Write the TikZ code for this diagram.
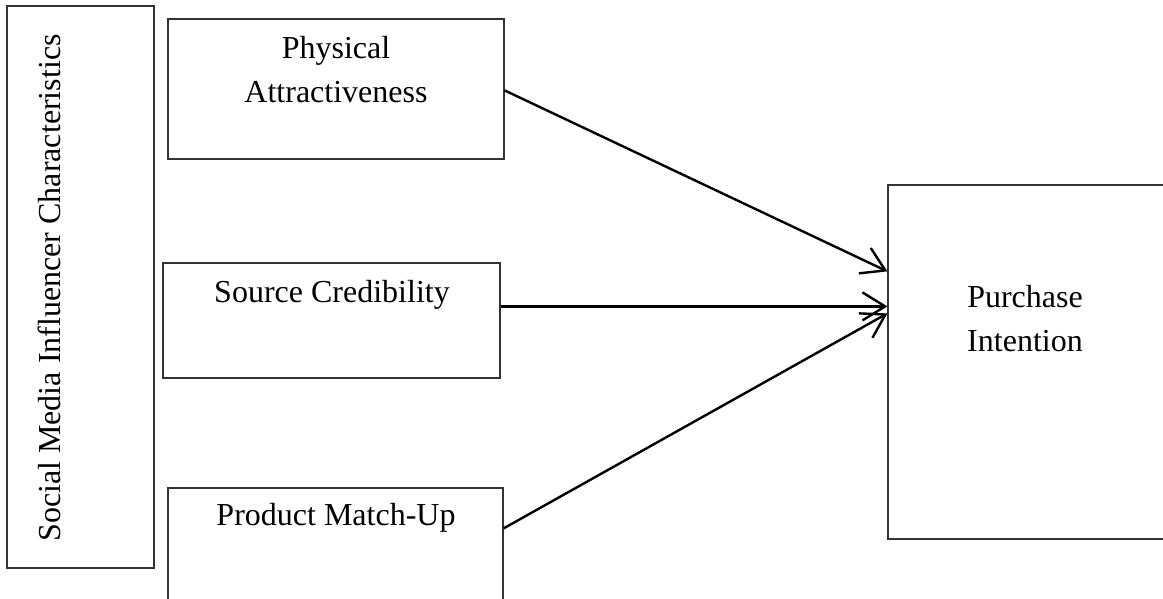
\documentclass[tikz,border=0pt]{standalone}
\usepackage{fontspec}
\setmainfont{Liberation Serif}
\usetikzlibrary{positioning}
\usetikzlibrary{arrows.meta}

\tikzset{
  box/.style={draw=black!80, line width=0.9pt, inner sep=0pt},
  txt/.style={font=\fontsize{24}{33}\selectfont, align=center, inner sep=0pt},
  link/.style={line width=1.8pt, -{Straight Barb[length=17pt,width=21pt]}}
}

\begin{document}
\begin{tikzpicture}[x=0.75pt,y=0.75pt]
  \useasboundingbox (0,0) rectangle (1163,599);

  \node[box, minimum width=110.25pt, minimum height=421.5pt] (side) at (80.5,312) {};
  \node[txt, rotate=90] (sideTxt) at (49,311) {Social Media Influencer Characteristics};

  \node[box, minimum width=252pt, minimum height=105pt] (phys) at (336,510) {};
  \node[txt] (physTxt) at (336,529) {Physical\\Attractiveness};

  \node[box, minimum width=252.75pt, minimum height=86.25pt] (src) at (331.5,278.5) {};
  \node[txt] (srcTxt) at (332,304) {Source Credibility};

  \node[box, minimum width=251.25pt, minimum height=105.75pt] (prod) at (335.5,40.5) {};
  \node[txt] (prodTxt) at (336,81) {Product Match-Up};

  \node[box, minimum width=211.5pt, minimum height=265.5pt] (pi) at (1029,237) {};
  \node[txt] (piTxt) at (1025,280) {Purchase\\Intention};

  \draw[link] ([yshift=-54pt]phys.north east) -- ([yshift=-65.25pt]pi.north west);
  \draw[link] ([yshift=-33pt]src.north east) -- ([yshift=-91.5pt]pi.north west);
  \draw[link] ([yshift=-30.75pt]prod.north east) -- ([yshift=-96.75pt]pi.north west);
\end{tikzpicture}
\end{document}
